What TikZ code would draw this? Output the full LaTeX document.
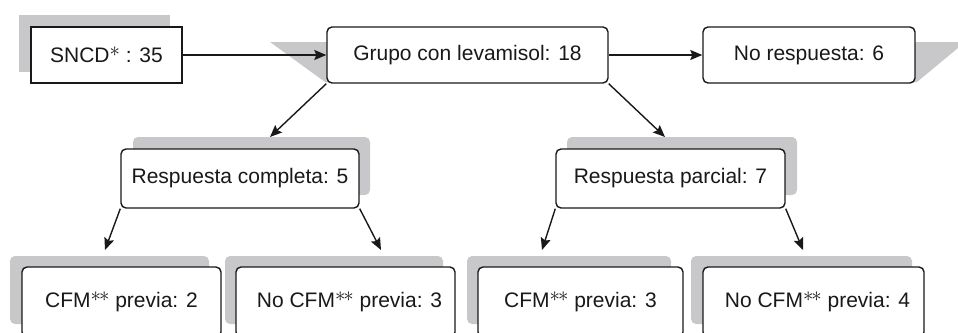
\documentclass[tikz,border=0pt]{standalone}
\usepackage{fontspec}
\setmainfont{Liberation Sans}
\usetikzlibrary{arrows.meta}
\definecolor{shd}{RGB}{200,200,202}
\definecolor{ink}{RGB}{25,25,25}
\newcommand{\myast}{\raisebox{6.5pt}{\fontsize{20}{20}\selectfont$\ast$}}
\begin{document}
\begin{tikzpicture}[x=1pt,y=-1pt,
  box/.style={draw=ink, line width=1.4pt, fill=white, inner sep=0pt,
    font=\fontsize{21}{25}\selectfont, text=ink},
  rbox/.style={box, rounded corners=5pt},
  shadowfill/.style={fill=shd, draw=none},
  arr/.style={draw=ink, line width=1.4pt, -{Stealth[length=12pt,width=10pt,inset=2pt]}}]
\useasboundingbox (0,0) rectangle (958,332);
\clip (0,0) rectangle (958,332);
% shadows
\fill[shadowfill] (19,15) rectangle (170,72);
\fill[shadowfill] (270,42) -- (330,42) -- (330,82) -- (325,82) -- cycle;
\fill[shadowfill] (912,42) -- (958,42) -- (958,48) -- (917,82) -- (912,82) -- cycle;
\fill[shadowfill, rounded corners=5pt] (133,137) rectangle (370,195);
\fill[shadowfill, rounded corners=5pt] (567,137) rectangle (797,195);
\fill[shadowfill, rounded corners=5pt] (10,256) rectangle (209,324);
\fill[shadowfill, rounded corners=5pt] (225,256) rectangle (443,324);
\fill[shadowfill, rounded corners=5pt] (467,256) rectangle (671,324);
\fill[shadowfill, rounded corners=5pt] (691,256) rectangle (912,324);
% boxes
\node[box, minimum width=151pt, minimum height=56pt] (s) at (106.5,55) {SNCD\myast\ : 35};
\node[rbox, minimum width=281pt, minimum height=56pt] (g) at (467.5,55) {Grupo con levamisol: 18};
\node[rbox, minimum width=212pt, minimum height=56pt] (nr) at (809,55) {No respuesta: 6};
\node[rbox, minimum width=238pt, minimum height=59pt] (rc) at (240,178.5) {Respuesta completa: 5};
\node[rbox, minimum width=229pt, minimum height=59pt] (rp) at (670.5,178.5) {Respuesta parcial: 7};
\node[rbox, minimum width=199pt, minimum height=70pt] (b1) at (121.5,302) {CFM\myast\kern-2pt\myast\ previa: 2};
\node[rbox, minimum width=219pt, minimum height=70pt] (b2) at (345.5,302) {\hspace*{8pt}No CFM\myast\kern-2pt\myast\ previa: 3};
\node[rbox, minimum width=205pt, minimum height=70pt] (b3) at (580.5,302) {CFM\myast\kern-2pt\myast\ previa: 3};
\node[rbox, minimum width=221pt, minimum height=70pt] (b4) at (813.5,302) {\hspace*{8pt}No CFM\myast\kern-2pt\myast\ previa: 4};
% arrow targets
\coordinate (t1) at (270,137);
\coordinate (t2) at (665,137);
\coordinate (t3) at (105,250);
\coordinate (t4) at (381,250);
\coordinate (t5) at (542,250);
\coordinate (t6) at (803,250);
% connectors
\draw[arr] (s.east) -- (g.west);
\draw[arr] (g.east) -- (nr.west);
\draw[arr] (g.south west) -- (t1);
\draw[arr] (g.south east) -- (t2);
\draw[arr] (rc.south west) -- (t3);
\draw[arr] (rc.south east) -- (t4);
\draw[arr] (rp.south west) -- (t5);
\draw[arr] (rp.south east) -- (t6);
\end{tikzpicture}
\end{document}
